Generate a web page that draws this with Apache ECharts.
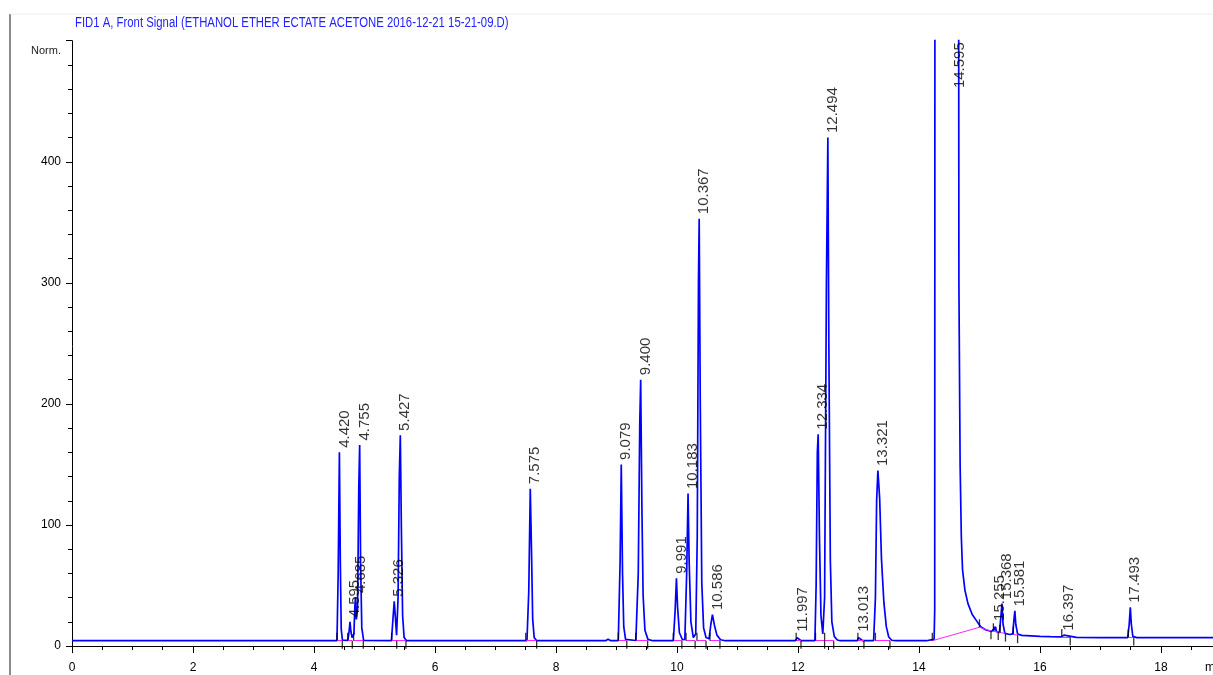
<!DOCTYPE html>
<html><head><meta charset="utf-8">
<script src="https://cdn.jsdelivr.net/npm/echarts@6/dist/echarts.min.js"></script>
<style>html,body{margin:0;padding:0;background:#fff}#c{width:1213px;height:675px}</style>
</head><body><div id="c"></div>
<script>
const TITLE = 'FID1 A, Front Signal (ETHANOL ETHER ECTATE ACETONE 2016-12-21 15-21-09.D)';
const X_UNIT = 'min';
const X_MIN = 0, X_MAX = 18.86, X_INTERVAL = 2;
const Y_MIN = -5.5, Y_MAX = 500;
const Y_LABEL_VALUES = [0, 100, 200, 300, 400, 500];
const Y_TOP_LABEL = 'Norm.';
const Y_MINOR_VALUES = [20, 40, 60, 80, 120, 140, 160, 180, 220, 240, 260, 280, 320, 340, 360, 380, 420, 440, 460, 480];

// detector signal [time (min), response]
const signal = [
  [0, 4.4], [4.38, 4.4], [4.40, 60], [4.42, 160], [4.435, 70], [4.45, 14], [4.47, 4.8],
  [4.56, 4.6], [4.58, 12], [4.595, 20], [4.61, 12], [4.63, 7], [4.66, 10], [4.675, 32], [4.685, 40], [4.70, 22],
  [4.72, 30], [4.74, 130], [4.755, 166], [4.77, 70], [4.79, 15], [4.82, 4.6],
  [5.28, 4.5], [5.305, 22], [5.326, 37], [5.345, 24], [5.365, 9], [5.39, 40], [5.41, 140], [5.427, 174],
  [5.445, 95], [5.465, 25], [5.49, 7], [5.53, 4.4],
  [6.78, 4.4], [6.80, 5.0], [6.82, 4.4],
  [7.52, 4.4], [7.55, 45], [7.575, 130], [7.595, 80], [7.615, 22], [7.64, 7], [7.68, 4.4],
  [8.82, 4.4], [8.86, 5.6], [8.90, 4.5],
  [9.03, 4.4], [9.06, 70], [9.079, 150], [9.10, 60], [9.12, 16], [9.15, 5.5], [9.32, 4.6],
  [9.36, 60], [9.385, 185], [9.40, 220], [9.42, 115], [9.44, 42], [9.47, 13], [9.52, 5.5], [9.60, 4.4],
  [9.94, 4.5], [9.97, 30], [9.991, 56], [10.01, 32], [10.04, 11], [10.09, 5.2],
  [10.13, 5.5], [10.16, 60], [10.183, 126], [10.20, 72], [10.23, 20], [10.27, 7],
  [10.31, 10], [10.335, 90], [10.355, 300], [10.367, 353], [10.385, 200], [10.41, 52], [10.44, 15], [10.48, 7],
  [10.53, 6], [10.56, 18], [10.586, 26], [10.62, 17], [10.66, 9], [10.72, 5.2], [10.80, 4.4],
  [11.96, 4.4], [11.985, 7], [11.997, 8], [12.015, 6], [12.05, 4.4],
  [12.28, 4.4], [12.30, 50], [12.32, 160], [12.334, 175], [12.355, 90], [12.38, 25], [12.41, 10],
  [12.44, 40], [12.47, 300], [12.494, 420], [12.51, 250], [12.535, 70], [12.56, 20], [12.60, 8], [12.65, 5], [12.70, 4.4],
  [12.98, 4.4], [13.0, 7], [13.013, 8], [13.03, 6], [13.07, 4.4],
  [13.25, 4.4], [13.28, 40], [13.30, 120], [13.321, 145], [13.35, 122], [13.38, 72], [13.42, 36], [13.46, 16],
  [13.50, 7.5], [13.55, 4.8], [13.62, 4.4],
  [14.12, 4.4], [14.20, 5.1], [14.25, 5.5], [14.26, 30], [14.27, 1500], [14.64, 1500],
  [14.66, 300], [14.68, 150], [14.70, 90], [14.72, 63], [14.76, 46], [14.81, 35], [14.88, 26], [14.95, 21],
  [15.02, 16], [15.10, 13.5], [15.20, 12], [15.235, 14], [15.245, 16], [15.255, 13], [15.265, 16], [15.28, 12],
  [15.33, 11], [15.355, 25], [15.372, 35], [15.39, 18], [15.42, 10.5], [15.50, 9.5], [15.55, 10],
  [15.57, 22], [15.585, 29], [15.60, 18], [15.63, 10], [15.70, 8.8], [16.0, 8.0], [16.17, 7.7],
  [16.35, 7.5], [16.38, 8.5], [16.397, 9], [16.42, 7.6], [16.6, 7.2], [17.0, 7.0], [17.45, 7.0],
  [17.475, 18], [17.493, 32], [17.51, 18], [17.535, 8], [17.60, 7.0], [18.86, 6.9]
];

// annotated peaks
const peakLabels = ['4.420', '4.595', '4.685', '4.755', '5.326', '5.427', '7.575', '9.079', '9.400', '9.991',
  '10.183', '10.367', '10.586', '11.997', '12.334', '12.494', '13.013', '13.321', '14.595',
  '15.255', '15.368', '15.581', '16.397', '17.493'];
const peakTimes = [4.420, 4.595, 4.685, 4.755, 5.326, 5.427, 7.575, 9.079, 9.400, 9.991,
  10.183, 10.367, 10.586, 11.997, 12.334, 12.494, 13.013, 13.321, 14.595,
  15.255, 15.368, 15.581, 16.397, 17.493];
const peakHeights = [160, 20, 40, 166, 37, 174, 130, 150, 220, 56,
  126, 353, 26, 8, 175, 420, 8, 145, 1500,
  17, 35, 29, 9, 32];

// integration marks
const intStarts = [[4.38, 4.4], [4.557, 4.4], [4.655, 4.4], [5.284, 4.4], [7.50, 4.4], [9.03, 4.4], [9.32, 4.4],
  [9.94, 4.4], [10.15, 4.4], [10.33, 4.4], [10.545, 4.4], [11.97, 4.4], [12.29, 4.4], [12.44, 4.4], [12.99, 4.4],
  [13.28, 4.4], [14.22, 4.4], [15.0, 15.5], [15.23, 12.2], [15.34, 11], [15.56, 9.6], [16.36, 7.5], [17.46, 7.0]];
const intEnds = [[4.468, 4.4], [4.633, 4.4], [4.815, 4.4], [5.367, 4.4], [5.52, 4.4], [7.68, 4.4], [9.17, 4.4],
  [9.515, 4.4], [10.08, 4.4], [10.30, 4.4], [10.48, 4.4], [10.71, 4.4], [12.05, 4.4], [12.44, 4.4], [12.59, 4.4],
  [13.09, 4.4], [13.52, 4.4], [15.19, 12.3], [15.31, 11.5], [15.43, 10.3], [15.63, 9.0], [16.5, 7.3], [17.55, 7.0]];
const baselineSegs = [
  [[4.38, 4.4], [4.468, 4.4]], [[4.557, 4.4], [4.633, 4.4]], [[4.655, 4.4], [4.815, 4.4]],
  [[5.284, 4.4], [5.52, 4.4]], [[7.50, 4.4], [7.68, 4.4]], [[9.03, 4.4], [9.17, 4.4]], [[9.32, 4.4], [9.515, 4.4]],
  [[9.94, 4.4], [10.08, 4.4]], [[10.15, 4.4], [10.30, 4.4]], [[10.33, 4.4], [10.48, 4.4]], [[10.545, 4.4], [10.71, 4.4]],
  [[11.97, 4.4], [12.05, 4.4]], [[12.29, 4.4], [12.59, 4.4]], [[12.99, 4.4], [13.09, 4.4]], [[13.28, 4.4], [13.52, 4.4]],
  [[14.22, 4.4], [15.0, 15.5]], [[15.0, 15.5], [15.19, 12.3]], [[15.23, 12.2], [15.43, 10.3]], [[15.56, 9.6], [15.63, 9.0]],
  [[16.36, 7.5], [16.5, 7.3]], [[17.46, 7.0], [17.55, 7.0]]
];

const FONT = "'Liberation Sans', Arial, sans-serif";
const chart = echarts.init(document.getElementById('c'), null, {renderer: 'canvas'});

const labelData = peakTimes.map((t, i) => {
  const clipped = peakHeights[i] > Y_MAX;
  const item = {value: [t, clipped ? Y_MAX : peakHeights[i]], name: peakLabels[i]};
  if (clipped) item.label = {align: 'right', offset: [-2, -2]};
  return item;
});

chart.setOption({
  animation: false,
  grid: {left: 72, right: 0, top: 40.7, bottom: 22.3, containLabel: false},
  xAxis: {
    type: 'value', min: X_MIN, max: X_MAX, interval: X_INTERVAL,
    axisLine: {show: true, lineStyle: {color: '#000', width: 1}},
    axisTick: {show: true, length: 7, lineStyle: {color: '#000'}},
    minorTick: {show: true, splitNumber: 4, length: 4, lineStyle: {color: '#000'}},
    axisLabel: {color: '#000', fontSize: 12, fontFamily: FONT, margin: 9, showMaxLabel: false},
    splitLine: {show: false}
  },
  yAxis: [{
    type: 'value', min: Y_MIN, max: Y_MAX, position: 'left',
    axisLine: {show: true, onZero: false, lineStyle: {color: '#000', width: 1}},
    axisTick: {show: true, length: 6, customValues: Y_LABEL_VALUES, lineStyle: {color: '#000'}},
    axisLabel: {
      color: '#000', fontSize: 12, fontFamily: FONT, margin: 11, customValues: Y_LABEL_VALUES,
      formatter: v => v === Y_MAX ? '{n|' + Y_TOP_LABEL + '}' : String(v),
      rich: {n: {fontSize: 11, fontFamily: FONT, color: '#222', padding: [20, 0, 0, 0]}}
    },
    splitLine: {show: false}
  }, {
    type: 'value', min: Y_MIN, max: Y_MAX, position: 'left', offset: 0,
    axisLine: {show: false},
    axisTick: {show: true, length: 4, customValues: Y_MINOR_VALUES, lineStyle: {color: '#000'}},
    axisLabel: {show: false},
    splitLine: {show: false}
  }],
  series: [{
    type: 'line', data: signal, showSymbol: false, symbol: 'none', clip: true, z: 2,
    lineStyle: {color: '#0000ff', width: 1.7}, sampling: 'none'
  }, {
    type: 'lines', coordinateSystem: 'cartesian2d', z: 3,
    data: baselineSegs.map(s => ({coords: s})),
    lineStyle: {color: '#ff22ff', width: 1, opacity: 1}
  }, {
    type: 'scatter', data: intStarts, symbol: 'rect', symbolSize: [1.3, 8], symbolOffset: [0, '-50%'], z: 4,
    itemStyle: {color: '#000'}, silent: true
  }, {
    type: 'scatter', data: intEnds, symbol: 'rect', symbolSize: [1.3, 8], symbolOffset: [0, '50%'], z: 4,
    itemStyle: {color: '#000'}, silent: true
  }, {
    type: 'scatter', data: labelData, symbolSize: 1, z: 5, silent: true,
    itemStyle: {color: 'transparent'},
    label: {
      show: true, rotate: 90, position: [0, 0], align: 'left', verticalAlign: 'top', offset: [4, -2],
      formatter: p => p.name, fontSize: 15, fontFamily: FONT, color: '#000'
    }
  }],
  graphic: [
    {type: 'line', shape: {x1: 10, y1: 14, x2: 10, y2: 675}, style: {stroke: '#8a8a8a', lineWidth: 2}},
    {type: 'line', shape: {x1: 10, y1: 14, x2: 1213, y2: 14}, style: {stroke: '#ececec', lineWidth: 1}},
    {type: 'text', x: 75, y: 16, scaleX: 0.81, style: {text: TITLE, fill: '#2222ff', fontSize: 14, fontFamily: FONT}},
    {type: 'text', x: 1205, y: 662, style: {text: X_UNIT, fill: '#000', fontSize: 12, fontFamily: FONT}}
  ]
});
</script></body></html>
